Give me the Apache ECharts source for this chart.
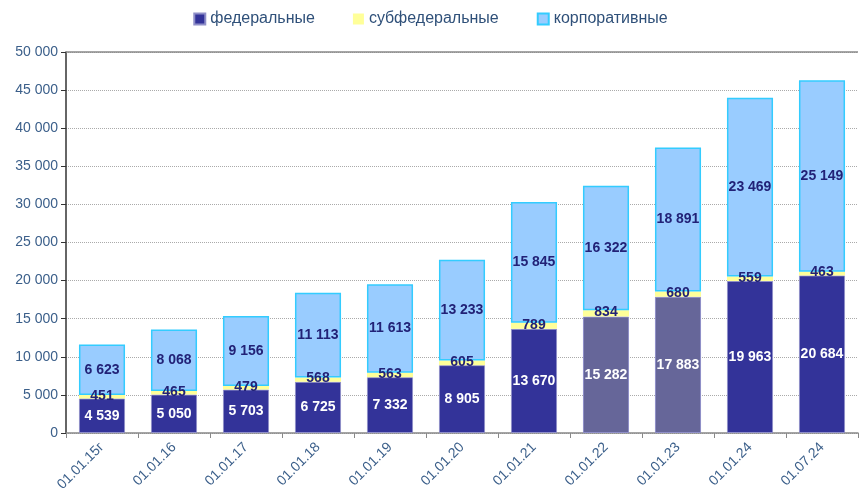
<!DOCTYPE html>
<html>
<head>
<meta charset="utf-8">
<script src="https://cdn.jsdelivr.net/npm/echarts@6/dist/echarts.min.js"></script>
<style>
  html, body { margin: 0; padding: 0; background: #fff; }
  #chart { width: 861px; height: 490px; }
</style>
</head>
<body>
<div id="chart"></div>
<script>
const categories = ['01.01.15г', '01.01.16', '01.01.17', '01.01.18', '01.01.19', '01.01.20',
  '01.01.21', '01.01.22', '01.01.23', '01.01.24', '01.07.24'];
const federal = [4539, 5050, 5703, 6725, 7332, 8905, 13670, 15282, 17883, 19963, 20684];
const subfederal = [451, 465, 479, 568, 563, 605, 789, 834, 680, 559, 463];
const corporate = [6623, 8068, 9156, 11113, 11613, 13233, 15845, 16322, 18891, 23469, 25149];
const greyed = ['01.01.22', '01.01.23']; // these two federal bars are drawn in a muted tone

const fmt = v => String(v).replace(/\B(?=(\d{3})+(?!\d))/g, ' ');
const textColor = '#3b5f8a';

const chart = echarts.init(document.getElementById('chart'));

chart.setOption({
  animation: false,
  textStyle: { fontFamily: 'Arial, "Liberation Sans", sans-serif' },
  legend: {
    top: 6,
    left: 'center',
    icon: 'rect',
    itemWidth: 11,
    itemHeight: 11,
    itemGap: 38,
    textStyle: { color: '#2f5079', fontSize: 16 },
    data: ['федеральные', 'субфедеральные', 'корпоративные']
  },
  grid: { left: 66, right: 3, top: 52, bottom: 57, outerBoundsMode: 'none' },
  xAxis: {
    type: 'category',
    data: categories,
    axisLine: { lineStyle: { color: '#888', width: 1.5 } },
    axisTick: { show: true, length: 5, lineStyle: { color: '#888' } },
    axisLabel: { rotate: 45, color: textColor, fontSize: 14, margin: 12 }
  },
  yAxis: {
    type: 'value',
    min: 0,
    max: 50000,
    interval: 5000,
    axisLine: { show: true, lineStyle: { color: '#333', width: 1.5 } },
    axisTick: { show: true, length: 5, lineStyle: { color: '#333' } },
    axisLabel: { color: textColor, fontSize: 14, formatter: fmt },
    splitLine: { lineStyle: { color: '#aaa', type: 'dotted' } }
  },
  series: [
    {
      name: 'федеральные',
      type: 'bar',
      stack: 'total',
      barWidth: '64%',
      itemStyle: { color: '#333399', borderColor: '#8f8fc8', borderWidth: 1 },
      label: {
        show: true,
        color: '#fff',
        fontWeight: 'bold',
        fontSize: 14,
        formatter: p => fmt(p.value)
      },
      markLine: {
        silent: true,
        symbol: 'none',
        label: { show: false },
        lineStyle: { color: '#888', type: 'solid', width: 1.5 },
        data: [{ yAxis: 50000 }]
      },
      data: federal.map((v, i) => greyed.includes(categories[i])
        ? { value: v, itemStyle: { color: '#666699' } }
        : v)
    },
    {
      name: 'субфедеральные',
      type: 'bar',
      stack: 'total',
      itemStyle: { color: '#ffff99' },
      label: {
        show: true,
        position: 'inside',
        offset: [0, -1],
        color: '#222277',
        fontWeight: 'bold',
        fontSize: 14,
        formatter: p => fmt(p.value)
      },
      data: subfederal
    },
    {
      name: 'корпоративные',
      type: 'bar',
      stack: 'total',
      itemStyle: { color: '#99ccff', borderColor: '#33ccff', borderWidth: 1.5 },
      label: {
        show: true,
        color: '#222277',
        fontWeight: 'bold',
        fontSize: 14,
        formatter: p => fmt(p.value)
      },
      data: corporate
    }
  ]
});
</script>
</body>
</html>
